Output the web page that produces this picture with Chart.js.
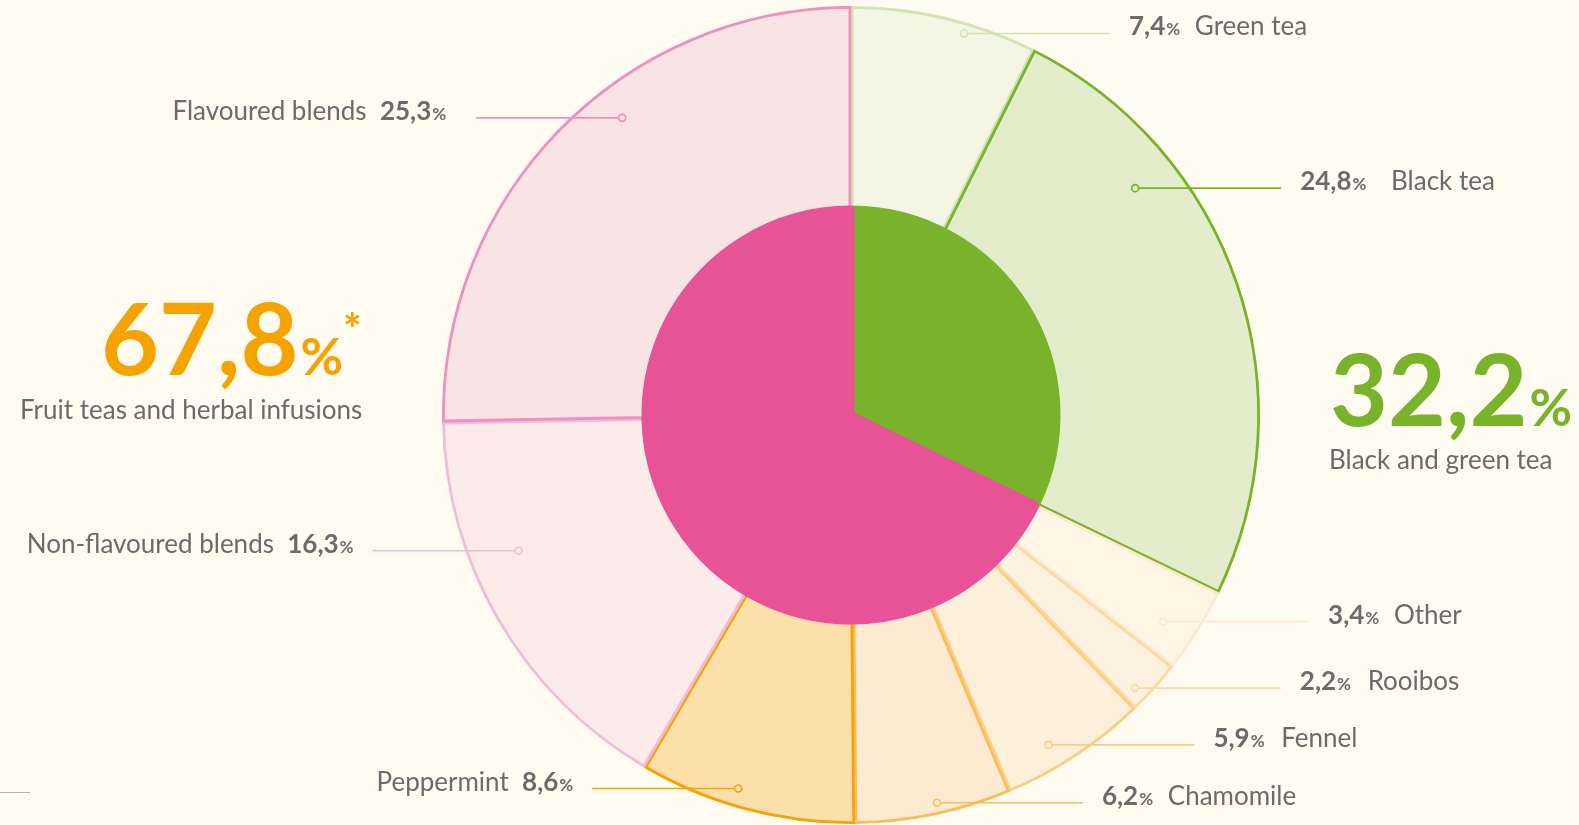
<!DOCTYPE html>
<html>
<head>
<meta charset="utf-8">
<script src="https://cdn.jsdelivr.net/npm/chart.js@4.4.0/dist/chart.umd.min.js"></script>
<style>
  html, body { margin: 0; padding: 0; background: #fffbf0; }
  #wrap { width: 1579px; height: 825px; }
</style>
</head>
<body>
<div id="wrap"><canvas id="teaChart" width="1579" height="825"></canvas></div>
<script>
// outer ring: single tea types (share of total, %)
var categories = ["Green tea", "Black tea", "Other", "Rooibos", "Fennel", "Chamomile", "Peppermint", "Non-flavoured blends", "Flavoured blends"];
var shares = [7.4, 24.8, 3.4, 2.2, 5.9, 6.2, 8.6, 16.3, 25.3];

// inner pie: the two groups
var groups = ["Black and green tea", "Fruit teas and herbal infusions"];
var groupShares = [32.2, 67.8];

// styling
var ringFill   = ["#f3f6e4", "#e3edcb", "#fff6e6", "#fdf2df", "#fdf0da", "#fcebd0", "#fbe0a9", "#fbecea", "#f9e4e5"];
var ringBorder = ["#d3e4b4", "#79b22b", "#fde9cf", "#fdd9a3", "#fcce83", "#f9be5c", "#f4a40b", "#f3bbd8", "#ee90c0"];
var groupColors = ["#79b22b", "#e85296"];

// leader anchor: angle (deg, clockwise from top), radius as part of outer radius, side of text
var anchorAngle = [16.5, 51.4, 123.5, 133.9, 149.1, 167.5, 196.8, 247.8, 322.4];
var anchorRadius = [0.973, 0.889, 0.915, 0.963, 0.94, 0.971, 0.954, 0.878, 0.917];
var anchorSide = ["r", "r", "r", "r", "r", "r", "l", "l", "l"];
var nameGap = [8, 18, 8, 10, 10, 8, 0, 0, 0];
var textGap = [19, 19, 19, 19, 19, 19, 19, 19, 30];

var fontName = "Lato";
var grey = "#6b6b6b";

function fmt(v) {
  return v.toFixed(1).replace(".", ",");
}

function drawParts(ctx, parts, x, y, align) {
  var total = 0;
  parts.forEach(function (p) {
    ctx.font = p.font;
    p.w = ctx.measureText(p.text).width + (p.gap || 0);
    total += p.w;
  });
  var cur = align === "right" ? x - total : x;
  parts.forEach(function (p) {
    ctx.font = p.font;
    ctx.fillStyle = p.color;
    ctx.textAlign = "left";
    ctx.textBaseline = "alphabetic";
    ctx.fillText(p.text, cur, y);
    cur += p.w;
  });
}

var labelPlugin = {
  id: "teaLabels",
  afterDraw: function (chart) {
    var ctx = chart.ctx;
    var arc = chart.getDatasetMeta(0).data[0];
    var cx = arc.x, cy = arc.y, R = arc.outerRadius;
    ctx.save();

    for (var i = 0; i < categories.length; i++) {
      var a = anchorAngle[i] * Math.PI / 180;
      var px = cx + anchorRadius[i] * R * Math.sin(a);
      var py = cy - anchorRadius[i] * R * Math.cos(a);
      var len = 146;
      var ex = anchorSide[i] === "r" ? px + len : px - len;

      ctx.strokeStyle = ringBorder[i];
      ctx.lineWidth = 1.6;
      ctx.beginPath();
      ctx.moveTo(px, py);
      ctx.lineTo(ex, py);
      ctx.stroke();
      ctx.beginPath();
      ctx.arc(px, py, 3.5, 0, Math.PI * 2);
      ctx.fillStyle = ringFill[i];
      ctx.fill();
      ctx.stroke();

      var valPart = { text: fmt(shares[i]), font: "bold 26px " + fontName, color: grey, gap: 1 };
      var pctPart = { text: "%", font: "bold 17px " + fontName, color: grey };
      if (anchorSide[i] === "r") {
        pctPart.gap = nameGap[i];
        drawParts(ctx, [valPart, pctPart, { text: " " + categories[i], font: "26px " + fontName, color: grey }], ex + textGap[i], py + 2, "left");
      } else {
        drawParts(ctx, [{ text: categories[i] + "  ", font: "26px " + fontName, color: grey }, valPart, pctPart], ex - textGap[i], py + 2, "right");
      }
    }

    // group totals
    var orange = "#f5a300";
    drawParts(ctx, [
      { text: fmt(groupShares[1]), font: "bold 100px " + fontName, color: orange, gap: 2 },
      { text: "%", font: "bold 52px " + fontName, color: orange }
    ], 101, 375, "left");
    ctx.font = "bold 44px " + fontName;
    ctx.fillStyle = orange;
    ctx.fillText("*", 343, 345);
    ctx.font = "26px " + fontName;
    ctx.fillStyle = grey;
    ctx.fillText(groups[1], 20, 419);

    drawParts(ctx, [
      { text: fmt(groupShares[0]), font: "bold 100px " + fontName, color: groupColors[0], gap: 2 },
      { text: "%", font: "bold 52px " + fontName, color: groupColors[0] }
    ], 1330, 426, "left");
    ctx.font = "26px " + fontName;
    ctx.fillStyle = grey;
    ctx.fillText(groups[0], 1329, 469);

    // footnote rule
    ctx.strokeStyle = "#b5b5b5";
    ctx.lineWidth = 1;
    ctx.beginPath();
    ctx.moveTo(0, 792.5);
    ctx.lineTo(30, 792.5);
    ctx.stroke();

    ctx.restore();
  }
};

var ctx = document.getElementById("teaChart");

new Chart(ctx, {
  type: "pie",
  data: {
    labels: categories,
    datasets: [
      {
        label: "Tea types",
        data: shares,
        backgroundColor: ringFill,
        borderColor: ringBorder,
        borderWidth: 2.5,
        borderAlign: "inner",
        hoverOffset: 0,
        weight: 2.03,
        order: 1
      },
      {
        label: "Groups",
        data: groupShares,
        backgroundColor: groupColors,
        borderColor: groupColors,
        borderWidth: 7,
        borderAlign: "center",
        hoverOffset: 0,
        weight: 2.06,
        order: 0
      }
    ]
  },
  options: {
    responsive: false,
    animation: false,
    radius: 409,
    layout: {
      padding: { left: 442, right: 319, top: 5, bottom: 0 }
    },
    plugins: {
      legend: { display: false },
      tooltip: { enabled: false }
    }
  },
  plugins: [labelPlugin]
});
</script>
</body>
</html>
